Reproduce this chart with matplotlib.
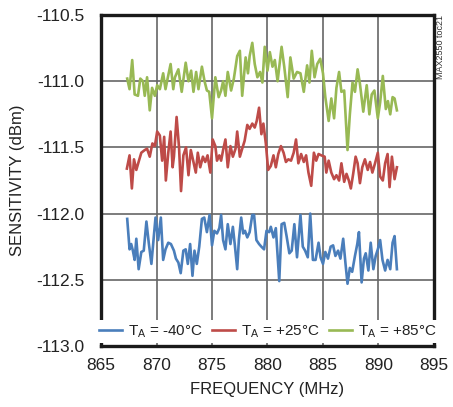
import matplotlib
matplotlib.use("Agg")
import matplotlib.pyplot as plt

plt.rcParams['font.family'] = ['Liberation Sans', 'DejaVu Sans']
plt.rcParams['mathtext.fontset'] = 'custom'
plt.rcParams['mathtext.rm'] = 'Liberation Sans'
plt.rcParams['mathtext.default'] = 'rm'

# values
freq_85 = [867.36, 867.57, 867.81, 868.03, 868.33, 868.54, 868.78, 868.94, 869.15, 869.39,
           869.60, 869.85, 870.06, 870.30, 870.60, 870.81, 871.00, 871.27, 871.51, 871.66,
           871.97, 872.27, 872.63, 872.88, 873.12, 873.33, 873.57, 873.78, 874.09, 874.33,
           874.54, 874.75, 875.00, 875.30, 875.60, 875.82, 876.00, 876.21, 876.42, 876.72,
           876.97, 877.27, 877.51, 877.72, 878.03, 878.24, 878.39, 878.63, 878.85, 879.09,
           879.33, 879.54, 879.75, 880.00, 880.21, 880.45, 880.66, 880.91, 881.27, 881.51,
           881.82, 882.06, 882.36, 882.66, 882.97, 883.27, 883.57, 883.78, 883.99, 884.24,
           884.48, 884.75, 885.00, 885.21, 885.51, 885.75, 886.00, 886.21, 886.45, 886.66,
           886.91, 887.21, 887.42, 887.66, 887.88, 888.12, 888.33, 888.63, 888.94, 889.18,
           889.39, 889.63, 889.94, 890.15, 890.39, 890.66, 890.85, 891.06, 891.27, 891.45,
           891.66]
sens_85 = [-110.98, -111.06, -110.84, -111.10, -111.11, -110.98, -111.00, -111.11, -110.97, -111.22,
           -111.05, -111.11, -111.03, -111.06, -110.94, -111.06, -110.98, -110.87, -111.06, -110.97,
           -110.91, -111.08, -110.86, -111.00, -110.92, -111.08, -110.93, -111.06, -110.89, -111.00,
           -111.07, -111.08, -111.28, -110.97, -111.12, -111.07, -111.00, -111.11, -110.93, -111.07,
           -110.98, -110.81, -110.77, -111.11, -110.82, -110.94, -110.81, -110.71, -110.87, -110.97,
           -110.93, -111.01, -110.74, -110.92, -110.78, -110.89, -110.84, -111.00, -110.74, -110.89,
           -111.12, -110.82, -110.98, -110.93, -110.94, -111.08, -110.88, -111.01, -110.77, -110.97,
           -110.87, -110.83, -110.94, -111.12, -111.30, -111.13, -111.28, -111.05, -110.93, -111.08,
           -111.07, -111.52, -111.25, -111.01, -111.08, -110.91, -111.02, -111.23, -111.03, -111.25,
           -111.10, -111.07, -111.28, -111.16, -110.96, -111.21, -111.15, -111.25, -111.12, -111.13,
           -111.22]

freq_25 = [867.33, 867.57, 867.78, 867.97, 868.18, 868.42, 868.63, 868.94, 869.15, 869.39,
           869.63, 869.85, 870.06, 870.30, 870.51, 870.69, 870.84, 871.06, 871.27, 871.45,
           871.57, 871.81, 872.03, 872.21, 872.42, 872.66, 872.88, 873.09, 873.33, 873.54,
           873.72, 873.94, 874.18, 874.39, 874.60, 874.85, 875.06, 875.30, 875.45, 875.66,
           875.82, 876.00, 876.21, 876.42, 876.66, 876.88, 877.12, 877.27, 877.51, 877.72,
           877.94, 878.18, 878.39, 878.63, 878.85, 879.03, 879.24, 879.45, 879.63, 879.85,
           880.06, 880.30, 880.54, 880.75, 880.97, 881.21, 881.45, 881.66, 881.88, 882.12,
           882.36, 882.57, 882.78, 883.03, 883.27, 883.48, 883.69, 883.94, 884.18, 884.39,
           884.60, 884.85, 885.15, 885.30, 885.51, 885.75, 886.00, 886.21, 886.45, 886.66,
           886.91, 887.12, 887.33, 887.51, 887.72, 887.94, 888.12, 888.33, 888.54, 888.78,
           889.03, 889.24, 889.45, 889.69, 889.94, 890.15, 890.39, 890.60, 890.82, 891.00,
           891.21, 891.45, 891.66]
sens_25 = [-111.66, -111.56, -111.81, -111.59, -111.67, -111.60, -111.54, -111.52, -111.51, -111.57,
           -111.47, -111.49, -111.38, -111.41, -111.60, -111.42, -111.75, -111.54, -111.38, -111.65,
           -111.57, -111.27, -111.50, -111.83, -111.56, -111.50, -111.71, -111.52, -111.61, -111.69,
           -111.54, -111.65, -111.57, -111.61, -111.56, -111.69, -111.44, -111.49, -111.60, -111.56,
           -111.60, -111.52, -111.44, -111.65, -111.49, -111.57, -111.51, -111.38, -111.57, -111.51,
           -111.45, -111.33, -111.36, -111.32, -111.35, -111.30, -111.20, -111.40, -111.32, -111.47,
           -111.67, -111.64, -111.56, -111.65, -111.55, -111.49, -111.54, -111.61, -111.59, -111.60,
           -111.54, -111.44, -111.62, -111.55, -111.61, -111.56, -111.69, -111.79, -111.54, -111.60,
           -111.55, -111.56, -111.57, -111.69, -111.60, -111.69, -111.74, -111.71, -111.75, -111.62,
           -111.76, -111.70, -111.75, -111.81, -111.70, -111.57, -111.62, -111.77, -111.65, -111.59,
           -111.67, -111.61, -111.69, -111.62, -111.54, -111.72, -111.75, -111.62, -111.55, -111.80,
           -111.57, -111.74, -111.65]

freq_m40 = [867.36, 867.57, 867.72, 867.87, 868.03, 868.18, 868.39, 868.63, 868.85, 869.09,
            869.30, 869.54, 869.75, 869.91, 870.15, 870.39, 870.60, 870.81, 871.06, 871.30,
            871.57, 871.75, 871.97, 872.18, 872.42, 872.63, 872.82, 873.03, 873.24, 873.42,
            873.63, 873.85, 874.09, 874.30, 874.54, 874.78, 875.00, 875.21, 875.45, 875.66,
            875.82, 876.00, 876.21, 876.42, 876.66, 876.88, 877.06, 877.27, 877.42, 877.63,
            877.81, 877.97, 878.18, 878.39, 878.63, 878.79, 879.00, 879.24, 879.45, 879.69,
            879.91, 880.15, 880.30, 880.54, 880.75, 881.06, 881.27, 881.51, 881.72, 881.97,
            882.18, 882.42, 882.66, 882.97, 883.18, 883.39, 883.63, 883.85, 884.09, 884.33,
            884.60, 884.78, 885.00, 885.21, 885.45, 885.69, 885.91, 886.12, 886.36, 886.57,
            886.82, 887.03, 887.21, 887.42, 887.63, 887.88, 888.09, 888.24, 888.48, 888.69,
            888.85, 889.09, 889.30, 889.54, 889.75, 889.94, 890.15, 890.36, 890.60, 890.82,
            891.06, 891.27, 891.45, 891.66]
sens_m40 = [-112.04, -112.27, -112.23, -112.28, -112.35, -112.19, -112.42, -112.29, -112.28, -112.06,
            -112.22, -112.38, -112.18, -112.03, -112.20, -112.03, -112.35, -112.27, -112.22, -112.23,
            -112.28, -112.34, -112.37, -112.45, -112.28, -112.27, -112.38, -112.23, -112.47, -112.28,
            -112.38, -112.25, -112.04, -112.03, -112.14, -112.01, -112.24, -112.13, -112.15, -112.11,
            -112.01, -112.20, -112.27, -112.08, -112.23, -112.10, -112.24, -112.42, -112.20, -112.03,
            -112.15, -112.13, -112.18, -112.14, -112.01, -112.01, -112.20, -112.23, -112.25, -112.27,
            -112.13, -112.14, -112.10, -112.18, -112.11, -112.51, -112.08, -112.07, -112.17, -112.30,
            -112.28, -112.08, -112.33, -112.01, -112.25, -112.28, -112.33, -112.00, -112.35, -112.35,
            -112.22, -112.33, -112.38, -112.29, -112.34, -112.25, -112.24, -112.32, -112.28, -112.34,
            -112.19, -112.38, -112.53, -112.41, -112.44, -112.32, -112.23, -112.14, -112.52, -112.34,
            -112.30, -112.43, -112.22, -112.42, -112.32, -112.27, -112.20, -112.35, -112.43, -112.35,
            -112.42, -112.22, -112.17, -112.42]

labels = ['T$_A$ = -40°C', 'T$_A$ = +25°C', 'T$_A$ = +85°C']
colors = ['#4a7ebb', '#be4b48', '#98b954']

fig = plt.figure(figsize=(4.53, 4.07), dpi=100)
ax = fig.add_axes([0.223, 0.150, 0.735, 0.813])

ax.plot(freq_m40, sens_m40, color=colors[0], lw=1.9, label=labels[0], zorder=3)
ax.plot(freq_25, sens_25, color=colors[1], lw=1.9, label=labels[1], zorder=3)
ax.plot(freq_85, sens_85, color=colors[2], lw=1.9, label=labels[2], zorder=3)

ax.set_xlim(865, 895)
ax.set_ylim(-113.0, -110.5)
ax.set_xticks([865, 870, 875, 880, 885, 890, 895])
ax.set_yticks([-113.0, -112.5, -112.0, -111.5, -111.0, -110.5])
ax.set_yticklabels(['-113.0', '-112.5', '-112.0', '-111.5', '-111.0', '-110.5'])
ax.tick_params(axis='both', length=0, labelsize=12.5, colors='#222222')
ax.tick_params(axis='x', pad=9)
ax.tick_params(axis='y', pad=12)
ax.grid(True, color='#666666', lw=1.2)
for s in ax.spines.values():
    s.set_linewidth(2.4)
    s.set_color('#1a1a1a')

ax.set_xlabel('FREQUENCY (MHz)', fontsize=12, color='#222222', labelpad=6)
ax.set_ylabel('SENSITIVITY (dBm)', fontsize=12, color='#222222', labelpad=8)

leg = ax.legend(loc='lower center', ncol=3, frameon=True, fontsize=11,
                handlelength=1.5, handletextpad=0.4, columnspacing=0.6,
                borderaxespad=0.2, borderpad=0.2, fancybox=False)
leg.get_frame().set_facecolor('white')
leg.get_frame().set_edgecolor('none')
leg.get_frame().set_alpha(1.0)
for t in leg.get_texts():
    t.set_color('#222222')

fig.text(0.972, 0.963, 'MAX2550 toc21', rotation=90, fontsize=6.5,
         ha='center', va='top', color='#333333')

fig.savefig('out.png', dpi=100)
